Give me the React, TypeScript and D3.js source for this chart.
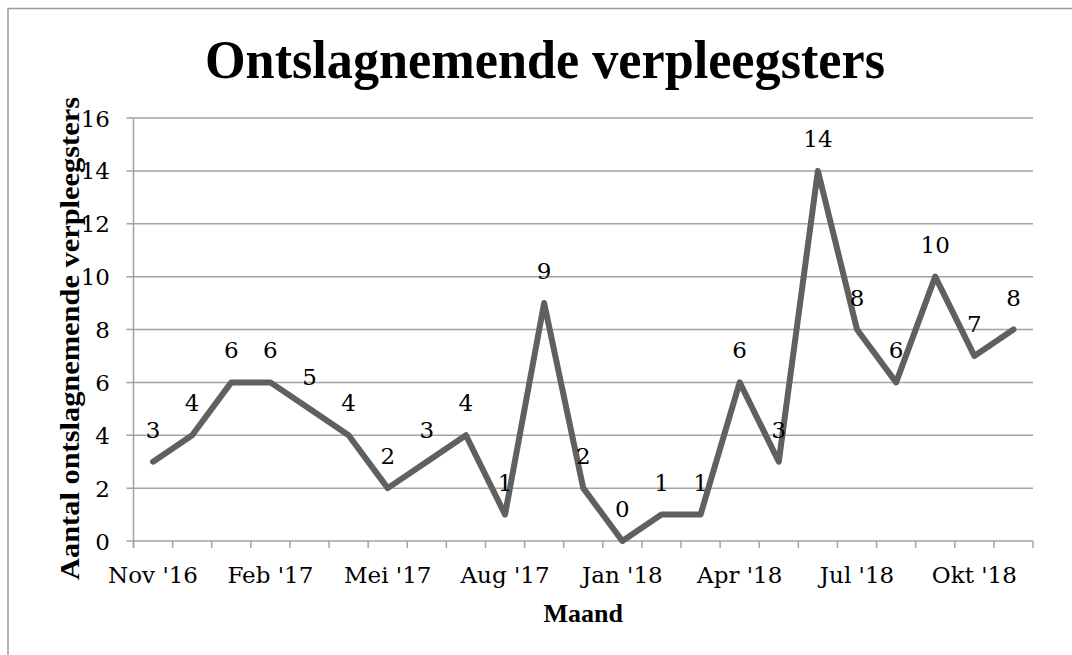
import React from "react";
import * as d3 from "d3";

// maanden (categorieen) en aantallen
const months = [
  "Nov '16", "Dec '16", "Jan '17", "Feb '17", "Mrt '17", "Apr '17", "Mei '17", "Jun '17",
  "Jul '17", "Aug '17", "Sep '17", "Okt '17", "Jan '18", "Feb '18", "Mrt '18", "Apr '18",
  "Mei '18", "Jun '18", "Jul '18", "Aug '18", "Sep '18", "Okt '18", "Nov '18",
];
const counts = [3, 4, 6, 6, 5, 4, 2, 3, 4, 1, 9, 2, 0, 1, 1, 6, 3, 14, 8, 6, 10, 7, 8];
const yTicks = [0, 2, 4, 6, 8, 10, 12, 14, 16];
const labelEvery = 3;

const W = 1072;
const H = 655;
const GRID = "#a3a3a3";
const LINE = "#606060";

// regular Liberation Serif falls back to a sans here, so regular text uses DejaVu Serif
const bold = { fontFamily: "Liberation Serif, DejaVu Serif", fontWeight: 700 };
const reg = { fontFamily: "DejaVu Serif", fontWeight: 400 };
const FS = 23;

const App = () => {
  const margin = { top: 118, right: 39, bottom: 114, left: 133.5 };
  const x0 = margin.left;
  const x1 = W - margin.right;
  const y0 = H - margin.bottom;
  const y1 = margin.top;

  const xScale = d3.scaleBand<string>().domain(months).range([x0, x1]).padding(0);
  const yScale = d3.scaleLinear().domain([0, 16]).range([y0, y1]);
  const cx = (i: number) => (xScale(months[i]) as number) + xScale.bandwidth() / 2;

  const line = d3
    .line<number>()
    .x((_, i) => cx(i))
    .y((d) => yScale(d));

  // tick marks on the category boundaries
  const bounds = d3.range(months.length + 1).map((i) => x0 + i * xScale.bandwidth());

  return (
    <svg width={W} height={H} style={{ position: "absolute", left: 0, top: 0, background: "#fff" }}>
      {/* chart frame */}
      <rect x={8} y={8.5} width={1300} height={1000} fill="none" stroke="#9a9a9a" strokeWidth={1.5} />

      <text x={545} y={78} textAnchor="middle" fontSize={54} textLength={680} lengthAdjust="spacingAndGlyphs" style={bold}>
        Ontslagnemende verpleegsters
      </text>

      {/* gridlines + y ticks */}
      {yTicks.map((t) => (
        <g key={t}>
          <line x1={x0 - 7} x2={x1} y1={yScale(t)} y2={yScale(t)} stroke={GRID} strokeWidth={1.5} />
          <text x={110} y={yScale(t) + 8.5} textAnchor="end" fontSize={FS} style={reg}>
            {t}
          </text>
        </g>
      ))}

      {/* y axis */}
      <line x1={x0} x2={x0} y1={y1} y2={y0 + 7} stroke={GRID} strokeWidth={1.5} />

      {/* x ticks */}
      {bounds.map((b, i) => (
        <line key={i} x1={b} x2={b} y1={y0} y2={y0 + 7} stroke={GRID} strokeWidth={1.5} />
      ))}
      {months.map((m, i) =>
        i % labelEvery === 0 ? (
          <text key={m} x={cx(i)} y={583} textAnchor="middle" fontSize={FS} style={reg}>
            {m}
          </text>
        ) : null
      )}

      {/* data line */}
      <path d={line(counts) || ""} fill="none" stroke={LINE} strokeWidth={6} strokeLinejoin="round" strokeLinecap="round" />

      {/* data labels */}
      {counts.map((v, i) => (
        <text key={i} x={cx(i)} y={yScale(v) - 24} textAnchor="middle" fontSize={FS} style={reg}>
          {v}
        </text>
      ))}

      <text x={(x0 + x1) / 2} y={622} textAnchor="middle" fontSize={26} style={bold}>
        Maand
      </text>
      <text
        transform={`translate(79, ${(97 + 580) / 2}) rotate(-90)`}
        textAnchor="middle"
        fontSize={28}
        textLength={483}
        lengthAdjust="spacingAndGlyphs"
        style={bold}
      >
        Aantal ontslagnemende verpleegsters
      </text>
    </svg>
  );
};

export default App;
